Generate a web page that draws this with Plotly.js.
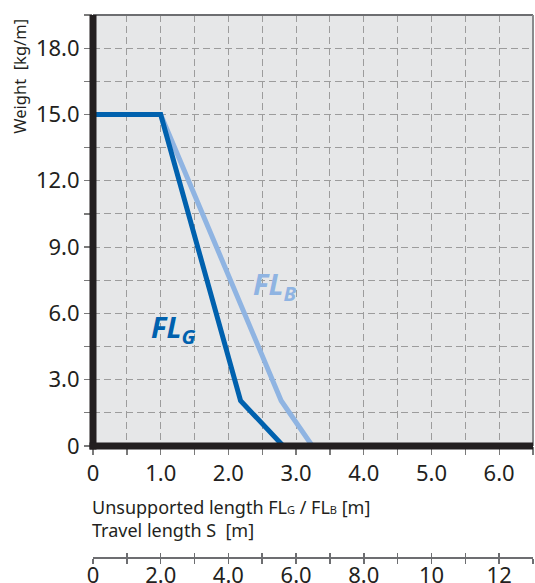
<!DOCTYPE html>
<html>
<head>
<meta charset="utf-8">
<script src="https://cdn.plot.ly/plotly-3.0.1.min.js"></script>
<style>html,body{margin:0;padding:0;background:#fff;}#chart{width:535px;height:583px;}</style>
</head>
<body>
<div id="chart"></div>
<script>
// ---- data ----
var flG_x = [0, 1.0, 2.18, 2.81];
var flG_y = [15, 15, 2.05, 0];
var flB_x = [0, 1.0, 2.78, 3.24];
var flB_y = [15, 15, 2.05, 0];

var xTickVals = [0, 1, 2, 3, 4, 5, 6];
var xTickText = ['0', '1.0', '2.0', '3.0', '4.0', '5.0', '6.0'];
var yTickVals = [0, 3, 6, 9, 12, 15, 18];
var yTickText = ['0', '3.0', '6.0', '9.0', '12.0', '15.0', '18.0'];
var sTickVals = [0, 2, 4, 6, 8, 10, 12];
var sTickText = ['0', '2.0', '4.0', '6.0', '8.0', '10', '12'];

var FONT = 'Noto Sans, DejaVu Sans, sans-serif';
var DARK = '#0061ae';
var LIGHT = '#8fb4e2';
var INK = '#231f20';
var yd0 = 0.2063;
var TICKFS = 22;

var traces = [
  {x: flB_x, y: flB_y, mode: 'lines', line: {color: LIGHT, width: 5}, hoverinfo: 'skip', showlegend: false},
  {x: flG_x, y: flG_y, mode: 'lines', line: {color: DARK, width: 5}, hoverinfo: 'skip', showlegend: false},
  {x: [0], y: [0], xaxis: 'x2', mode: 'markers', marker: {opacity: 0}, hoverinfo: 'skip', showlegend: false},
  {x: [0], y: [0], xaxis: 'x3', mode: 'markers', marker: {opacity: 0}, hoverinfo: 'skip', showlegend: false}
];

var gridCommon = {gridcolor: '#9c9c9c', gridwidth: 1, griddash: '7px,4px'};

var layout = {
  width: 535, height: 583,
  margin: {l: 93, r: 2, t: 15, b: 25, pad: 0},
  paper_bgcolor: '#ffffff',
  plot_bgcolor: '#e6e7e8',
  font: {family: FONT, color: INK, size: TICKFS},
  showlegend: false,
  xaxis: Object.assign({
    range: [0, 6.5], domain: [0, 1], anchor: 'y',
    tickmode: 'array', tickvals: xTickVals, ticktext: xTickText,
    ticks: 'outside', ticklen: 8, tickcolor: '#7a7a7a', tickwidth: 1.3,
    showline: false, zeroline: false, showgrid: true,
    tickfont: {size: TICKFS, family: FONT, color: INK},
    minor: Object.assign({dtick: 0.5, tick0: 0, ticks: 'outside', ticklen: 8, tickcolor: '#7a7a7a', tickwidth: 1.3, showgrid: true}, gridCommon)
  }, gridCommon),
  yaxis: Object.assign({
    range: [0, 19.5], domain: [yd0, 1],
    tickmode: 'array', tickvals: yTickVals, ticktext: yTickText,
    ticks: 'outside', ticklen: 8, tickcolor: '#7a7a7a', tickwidth: 1.3,
    showline: false, zeroline: false, showgrid: true,
    tickfont: {size: TICKFS, family: FONT, color: INK},
    minor: Object.assign({dtick: 1.5, tick0: 0, ticks: 'outside', ticklen: 8, tickcolor: '#7a7a7a', tickwidth: 1.3, showgrid: true}, gridCommon)
  }, gridCommon),
  xaxis2: {
    range: [0, 13], overlaying: 'x', anchor: 'free', position: 0, side: 'bottom',
    tickmode: 'array', tickvals: sTickVals, ticktext: sTickText,
    ticks: 'outside', ticklen: 5, tickcolor: '#6d6e71', tickwidth: 1.5,
    showline: true, linecolor: '#6d6e71', linewidth: 2,
    showgrid: false, zeroline: false,
    ticklabelstandoff: -7,
    tickfont: {size: TICKFS, family: FONT, color: INK},
    minor: {dtick: 1, tick0: 0, ticks: 'outside', ticklen: 5, tickcolor: '#6d6e71', tickwidth: 1.5, showgrid: false}
  },
  xaxis3: {
    range: [0, 13], overlaying: 'x', anchor: 'free', position: 0, side: 'bottom',
    tickmode: 'linear', dtick: 1, tick0: 0,
    ticks: 'inside', ticklen: 5, tickcolor: '#6d6e71', tickwidth: 1.5,
    showline: false, showgrid: false, zeroline: false, showticklabels: false
  },
  shapes: [
    {type: 'line', xref: 'paper', yref: 'paper', x0: 0, x1: 1, y0: 1, y1: 1, line: {color: '#6d6e71', width: 2}, layer: 'above'},
    {type: 'line', xref: 'paper', yref: 'paper', x0: 1, x1: 1, y0: yd0, y1: 1, line: {color: '#8a8b8d', width: 2}, layer: 'above'},
    {type: 'line', xref: 'paper', yref: 'paper', x0: 0, x1: 0, y0: yd0 - 3.5/543, y1: 1, line: {color: INK, width: 7}, layer: 'above'},
    {type: 'line', xref: 'paper', yref: 'paper', x0: -3.5/440, x1: 1, y0: yd0, y1: yd0, line: {color: INK, width: 7}, layer: 'above'}
  ],
  annotations: [
    {xref: 'paper', yref: 'paper', x: -0.166, y: 0.888, xanchor: 'center', yanchor: 'middle',
     text: 'Weight\u00a0 [kg/m]', textangle: -90, showarrow: false, font: {size: 16.5, family: FONT, color: INK}},
    {xref: 'paper', yref: 'paper', x: -0.007, y: 0.0727, xanchor: 'left', yanchor: 'middle', align: 'left',
     text: 'Unsupported length FL<span style="font-size:11px">G</span> / FL<span style="font-size:11px">B</span> [m]<br>Travel length S\u00a0 [m]', showarrow: false,
     font: {size: 18, family: FONT, color: INK}},
    {xref: 'x', yref: 'y', x: 0.82, y: 5.3, xanchor: 'left', yanchor: 'middle',
     text: '<b><i>FL<sub>G</sub></i></b>', showarrow: false, font: {size: 29, family: FONT, color: DARK}},
    {xref: 'x', yref: 'y', x: 2.34, y: 7.25, xanchor: 'left', yanchor: 'middle',
     text: '<b><i>FL<sub>B</sub></i></b>', showarrow: false, font: {size: 29, family: FONT, color: LIGHT}}
  ]
};

Plotly.newPlot('chart', traces, layout, {displayModeBar: false, staticPlot: true});
</script>
</body>
</html>
